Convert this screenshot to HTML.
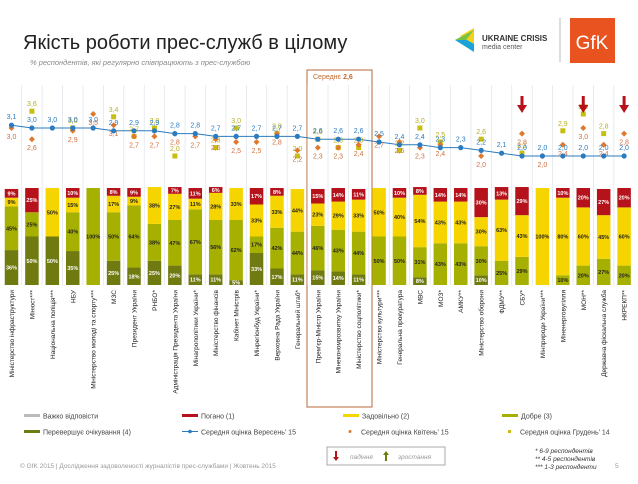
<!DOCTYPE html>
<html><head><meta charset="utf-8"><style>
body{margin:0;background:#fff;width:638px;height:479px;overflow:hidden;font-family:"Liberation Sans",sans-serif}
svg text{font-family:"Liberation Sans",sans-serif}
</style></head><body>
<svg id="c" width="638" height="479" xmlns="http://www.w3.org/2000/svg">
<text x="23" y="49" font-size="20" fill="#222">Якість роботи прес-служб в цілому</text>
<text x="30" y="65" font-size="7.5" font-style="italic" fill="#888">% респондентів, які регулярно співпрацюють з прес-службою</text>
<g>
<polygon points="455,40 474,30 474,52" fill="#1aa3d9"/><polygon points="460,36 474,28 474,44" fill="#f4d21c"/><polygon points="455,40 466,40 474,30" fill="#7cc242"/>
<text x="482" y="41" font-size="8" font-weight="bold" fill="#333">UKRAINE CRISIS</text>
<text x="482" y="49" font-size="7" fill="#555">media center</text>
</g>
<line x1="560" y1="18" x2="560" y2="62" stroke="#bbb"/>
<g><rect x="570" y="18" width="45" height="45" fill="#e8531f"/><text x="592" y="49" font-size="19" fill="#fff" text-anchor="middle">GfK</text></g>
<rect x="307" y="70" width="65" height="337" fill="none" stroke="#b86a3a" stroke-width="1"/>
<text x="313" y="79" font-size="7" fill="#c06a30">Середнє <tspan font-weight="bold">2,6</tspan></text>
<g id="grid"></g><g id="bars"></g><g id="lines"></g><g id="labels"></g>
<g font-size="7" fill="#444">
<rect x="24" y="414" width="16" height="3" fill="#bbb"/><text x="43" y="418.5">Важко відповісти</text>
<rect x="182" y="414" width="16" height="3" fill="#b5121b"/><text x="201" y="418.5">Погано (1)</text>
<rect x="343" y="414" width="16" height="3" fill="#f5d400"/><text x="362" y="418.5">Задовільно (2)</text>
<rect x="502" y="414" width="16" height="3" fill="#a5b000"/><text x="521" y="418.5">Добре (3)</text>
<rect x="24" y="430" width="16" height="3" fill="#6f7a10"/><text x="43" y="434.5">Перевершує очікування (4)</text>
<line x1="182" y1="431.5" x2="198" y2="431.5" stroke="#2a7bc0"/><circle cx="190" cy="431.5" r="1.8" fill="#2a7bc0"/><text x="201" y="434.5">Середня оцінка Вересень' 15</text>
<circle cx="350" cy="431.5" r="1.5" fill="#e0782e"/><text x="361" y="434.5">Середня оцінка Квітень' 15</text>
<rect x="508" y="430" width="3" height="3" fill="#c8be10"/><text x="520" y="434.5">Середня оцінка  Грудень' 14</text>
</g>
<g>
<rect x="327" y="447" width="118" height="18" fill="#fff" stroke="#aaa"/>
<polygon points="335,451 337,451 337,457 339,457 336,461 333,457 335,457" fill="#b5121b"/><text x="350" y="459" font-size="6.5" font-style="italic" fill="#999">падіння</text>
<polygon points="385,461 387,461 387,455 389,455 386,451 383,455 385,455" fill="#6f7a10"/><text x="398" y="459" font-size="6.5" font-style="italic" fill="#999">зростання</text>
</g>
<g font-size="6.5" font-style="italic" fill="#333">
<text x="535" y="453">* 6-9 респондентів</text><text x="535" y="461">** 4-5 респондентів</text><text x="535" y="469">*** 1-3 респонденти</text></g>
<text x="20" y="468" font-size="6.5" fill="#999">© GfK 2015 | Дослідження задоволеності журналістів прес-службами | Жовтень 2015</text>
<text x="615" y="468" font-size="6.5" fill="#999">5</text>
</svg>
<script>
const categories=["Міністерство інфраструктури","Мінюст***","Національна поліція***","НБУ","Міністерство молоді та спорту***","МЗС","Президент України","РНБО*","Адміністрація Президента України","Мінагрополітики України*","Міністерство фінансів","Кабінет Міністрів","Мінрегіонбуд України*","Верховна Рада України","Генеральний штаб*","Прем'єр-Міністр України","Мінекономрозвитку України","Міністерство соцполітики*","Міністерство культури***","Генеральна прокуратура","МВС","МОЗ*","АМКУ**","Міністерство оборони","ФДМУ**","СБУ*","Мінприроди України***","Міненерговугілля","МОН**","Державна фіскальна служба","НКРЕКП**"];
const poor=[9,25,0,10,0,8,9,0,7,11,6,0,17,8,0,15,14,11,0,10,8,14,14,30,13,29,0,10,20,27,20];
const fair=[9,0,50,15,0,17,9,38,27,11,28,33,33,33,44,23,29,33,50,40,54,43,43,30,63,43,100,80,60,45,60];
const good=[45,25,0,40,100,50,64,38,47,67,56,62,17,42,44,46,43,44,50,50,31,43,43,30,25,29,0,10,20,27,20];
const excellent=[36,50,50,35,0,25,18,25,20,11,11,5,33,17,11,15,14,11,0,0,8,0,0,10,0,0,0,0,0,0,0];
const avgSep=[3.1,3.0,3.0,3.0,3.0,2.9,2.9,2.9,2.8,2.8,2.7,2.7,2.7,2.7,2.7,2.6,2.6,2.6,2.5,2.4,2.4,2.3,2.3,2.2,2.1,2.0,2.0,2.0,2.0,2.0,2.0];
const avgApr=[3.0,2.6,null,2.9,3.5,3.1,2.7,2.7,2.8,2.7,2.6,2.5,2.5,2.8,2.2,2.3,2.3,2.4,2.7,2.5,2.3,2.4,null,2.0,null,2.8,2.0,2.4,3.0,2.4,2.8];
const avgDec=[null,3.6,null,3.0,null,3.4,2.7,3.0,2.0,null,2.3,3.0,null,2.8,2.0,2.6,2.3,2.3,null,2.2,3.0,2.5,null,2.6,null,2.1,null,2.9,3.5,2.8,null];
const declines=[25,28,30];
const NS='http://www.w3.org/2000/svg';
const x0=11.5,step=20.42,barW=13.5,barTop=188,barBot=285;
const xs=i=>x0+i*step;
const yv=v=>128+(3-v)*28;
const yp=p=>(barBot-barTop)*p/100;
function mk(t,a,par){const e=document.createElementNS(NS,t);for(const k in a)e.setAttribute(k,a[k]);document.getElementById(par).appendChild(e);return e;}
const fmt=v=>v.toFixed(1).replace('.',',');
categories.forEach((c,i)=>{
 const cx=xs(i);
 if(i>0){const g=mk('line',{x1:cx-step/2,y1:85,x2:cx-step/2,y2:barBot,stroke:'#dde3ea','stroke-width':0.7},'grid');
 
 }
 let y=barBot;
 const segs=[[excellent[i],'#6f7a10','#fff','excellent'],[good[i],'#a5b000','#222','good'],[fair[i],'#f5d400','#222','fair'],[poor[i],'#b5121b','#fff','poor']];
 segs.forEach(s=>{if(!s[0])return;const h=yp(s[0]);y-=h;
  const r=mk('rect',{x:cx-barW/2,y:y,width:barW,height:h,fill:s[1]},'bars');
  
  
  if(s[0]>=5){const t=mk('text',{x:cx,y:y+h/2+2,'font-size':5.5,'font-weight':'bold','text-anchor':'middle',fill:s[2]},'bars');t.textContent=s[0]+'%';
  
  }
 });
 const l=mk('text',{transform:`translate(${cx+2.5},290) rotate(-90)`,'font-size':6.5,'text-anchor':'end',fill:'#222'},'labels');l.textContent=c;
 
 
});
let d=avgSep.map((v,i)=>(i?'L':'M')+xs(i)+','+yv(v)).join(' ');
const pl=mk('path',{d:d,fill:'none',stroke:'#2a7bc0','stroke-width':1},'lines');


avgDec.forEach((v,i)=>{if(v==null)return;
 const s=mk('rect',{x:xs(i)-2.5,y:yv(v)-2.5,width:5,height:5,fill:'#c8be10'},'lines');
 
 
 const t=mk('text',{x:xs(i),y:yv(v)-5,'font-size':7,'text-anchor':'middle',fill:'#b8b020'},'lines');t.textContent=fmt(v);
 
 });
avgApr.forEach((v,i)=>{if(v==null)return;const x=xs(i),y=yv(v);
 const p=mk('polygon',{points:`${x},${y-3} ${x+3},${y} ${x},${y+3} ${x-3},${y}`,fill:'#e0782e'},'lines');
 
 
 const t=mk('text',{x:x,y:y+11,'font-size':7,'text-anchor':'middle',fill:'#d07040'},'lines');t.textContent=fmt(v);
 
 });
avgSep.forEach((v,i)=>{const x=xs(i),y=yv(v);
 const p=mk('circle',{cx:x,cy:y,r:2.6,fill:'#2a7bc0'},'lines');
 
 
 const t=mk('text',{x:x,y:y-6,'font-size':7,'text-anchor':'middle',fill:'#2a7bc0'},'lines');t.textContent=fmt(v);
 
 });
declines.forEach(i=>{const x=xs(i);
 const a=mk('polygon',{points:`${x-1.5},96 ${x+1.5},96 ${x+1.5},105 ${x+5},105 ${x},113 ${x-5},105 ${x-1.5},105`,fill:'#b5121b'},'lines');
 
 });
</script>
</body></html>
